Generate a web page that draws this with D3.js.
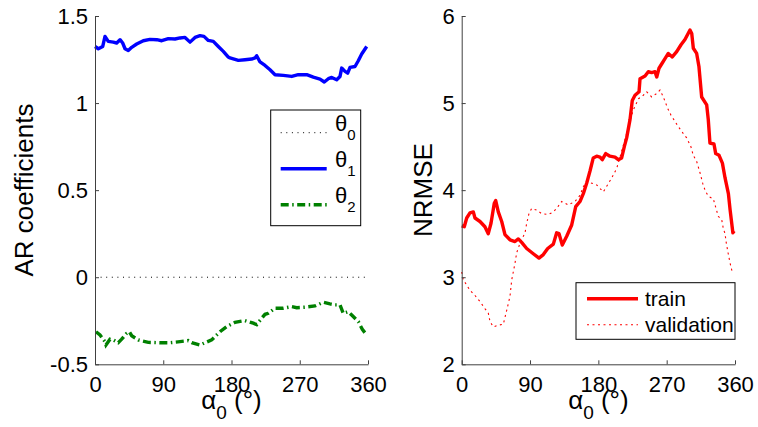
<!DOCTYPE html>
<html>
<head>
<meta charset="utf-8">
<script src="https://cdn.jsdelivr.net/npm/d3@7"></script>
<style>
  html, body { margin: 0; padding: 0; background: #fff; }
  svg { display: block; font-family: "Liberation Sans", Arial, Helvetica, sans-serif; }
</style>
</head>
<body>
<svg id="chart" width="758" height="427"></svg>
<script>
// ---- AR coefficients vs. alpha0 ----
const theta0Deg = [0, 360];
const theta0 = [0, 0];

const theta1Deg = [0, 4.4, 10.2, 13.2, 17.5, 24.1, 28.6, 33, 36.5, 39.6, 43.9, 48.4, 55, 63.7, 72.5,
  81.4, 88, 96.7, 105.5, 112.1, 118.7, 125.3, 131.9, 138.5, 143.7, 149.4, 156, 162.6, 169.2, 175.8,
  178, 189, 197.8, 206.6, 211, 213.2, 217.6, 224.2, 230.8, 237.4, 248.3, 259.4, 268.1, 279.2, 287.9,
  296.7, 302.4, 307.7, 312.2, 318.7, 323.1, 325.3, 329.7, 333.2, 336.3, 342.9, 347.2, 351.7, 358.3];
const theta1 = [1.325, 1.312, 1.325, 1.383, 1.354, 1.35, 1.345, 1.364, 1.345, 1.312, 1.302, 1.32, 1.339, 1.358, 1.366,
  1.364, 1.358, 1.37, 1.368, 1.374, 1.377, 1.35, 1.377, 1.387, 1.383, 1.36, 1.354, 1.325, 1.297, 1.264,
  1.259, 1.245, 1.249, 1.253, 1.259, 1.272, 1.236, 1.216, 1.191, 1.163, 1.159, 1.153, 1.163, 1.163, 1.149,
  1.138, 1.121, 1.14, 1.147, 1.134, 1.153, 1.201, 1.182, 1.172, 1.205, 1.21, 1.243, 1.282, 1.325];

const theta2Deg = [1.3, 6.6, 13.2, 14.5, 19.8, 24.1, 30.7, 35.2, 41.8, 45.2, 48.4, 57.1, 70.3, 85.7, 98.9,
  112.1, 123, 127.5, 138.5, 145.1, 153.9, 164.8, 173.7, 184.6, 197.8, 208.8, 213.2, 219.8, 224.2, 228.5,
  237.4, 248.3, 259.4, 266, 277, 290.1, 301.1, 309.9, 316.5, 323.1, 327.4, 334, 338.5, 347.2, 352.5, 358.3];
const theta2 = [-0.313, -0.332, -0.37, -0.389, -0.356, -0.36, -0.376, -0.356, -0.322, -0.313, -0.336, -0.36, -0.374, -0.376, -0.376,
  -0.37, -0.364, -0.376, -0.389, -0.376, -0.36, -0.313, -0.284, -0.259, -0.249, -0.264, -0.272, -0.236, -0.213, -0.207,
  -0.178, -0.178, -0.169, -0.175, -0.172, -0.165, -0.144, -0.153, -0.159, -0.159, -0.207, -0.198, -0.217, -0.255, -0.299, -0.332];

// ---- NRMSE vs. alpha0 ----
const trainDeg = [0, 3.4, 6.6, 10.9, 15.3, 17.5, 24.1, 30.6, 35, 38.6, 42.9, 44.8, 48.2, 52.7, 57, 63.6, 70.2, 74.6, 79,
  85.6, 94.3, 101.8, 107.5, 113.3, 120.7, 125.1, 128.2, 132.5, 138.3, 144.9, 150.2, 155.8, 160.2, 164.6, 169,
  173.3, 177.8, 182.2, 185.2, 189.7, 195.3, 201.9, 206.3, 210.7, 214.2, 217.3, 221.7, 224.7, 228.3, 233.6, 234.9,
  241.5, 245.8, 250.3, 254.6, 256.9, 259.9, 264.2, 267.8, 272.1, 277.4, 283.2, 288.9, 294.1, 300.7, 303, 305.1,
  309.5, 312.5, 316.1, 322.7, 324.8, 327, 332.3, 334.6, 339, 343.4, 346.9, 351.3, 353.6, 357.2, 358.9];
const train = [3.59, 3.58, 3.68, 3.74, 3.75, 3.68, 3.64, 3.58, 3.50, 3.62, 3.85, 3.88, 3.75, 3.64, 3.49, 3.43, 3.41, 3.44, 3.40,
  3.33, 3.27, 3.22, 3.26, 3.33, 3.38, 3.51, 3.50, 3.37, 3.47, 3.60, 3.81, 3.87, 3.96, 4.08, 4.22,
  4.37, 4.39, 4.38, 4.35, 4.42, 4.39, 4.38, 4.35, 4.37, 4.50, 4.60, 4.81, 5.03, 5.09, 5.13, 5.28,
  5.31, 5.36, 5.35, 5.36, 5.30, 5.40, 5.46, 5.51, 5.57, 5.53, 5.59, 5.67, 5.73, 5.84, 5.80, 5.63,
  5.57, 5.42, 5.07, 4.98, 4.81, 4.54, 4.53, 4.42, 4.40, 4.31, 4.14, 3.96, 3.77, 3.51, 3.53];

const validDeg = [0, 2.1, 6.6, 10.9, 17.5, 24.1, 30.6, 35, 37.3, 41.6, 48.2, 54.8, 59.3, 63.6, 65.9, 70.2, 72.4, 76.8,
  83.4, 85.6, 88.6, 92.2, 98.8, 105.4, 114.1, 120.7, 125.1, 131.7, 140.4, 149.2, 155.8, 160.2, 164.6, 177.8,
  186.5, 197.6, 204.2, 208.5, 217.3, 219.4, 226, 233, 239.2, 243.7, 250.3, 256.9, 261.2, 265.6, 271.3, 275.7,
  280.9, 285.3, 291.9, 296.3, 301.9, 305, 309.5, 313.9, 317.4, 320.5, 324.8, 331.4, 333.7, 338, 342.5, 344.6,
  346.9, 348.2, 351.3, 353.6, 355.8, 358];
const valid = [3.06, 2.97, 2.91, 2.85, 2.79, 2.72, 2.64, 2.59, 2.49, 2.43, 2.45, 2.46, 2.62, 2.78, 2.97, 3.16, 3.28, 3.39,
  3.51, 3.62, 3.73, 3.79, 3.77, 3.73, 3.72, 3.75, 3.79, 3.87, 3.83, 3.87, 3.94, 4.04, 4.10, 4.06,
  3.98, 4.14, 4.25, 4.38, 4.65, 4.73, 4.92, 5.05, 5.09, 5.13, 5.07, 5.11, 5.15, 5.07, 4.94, 4.86,
  4.79, 4.73, 4.65, 4.60, 4.50, 4.40, 4.33, 4.20, 4.08, 4.00, 3.93, 3.90, 3.83, 3.70, 3.66, 3.56,
  3.50, 3.41, 3.26, 3.16, 3.08, 3.04];

// ---- ticks ----
const xTicks = [0, 90, 180, 270, 360];
const xTickLabels = ["0", "90", "180", "270", "360"];
const leftYTicks = [-0.5, 0, 0.5, 1, 1.5];
const leftYTickLabels = ["-0.5", "0", "0.5", "1", "1.5"];
const rightYTicks = [2, 3, 4, 5, 6];
const rightYTickLabels = ["2", "3", "4", "5", "6"];

const svg = d3.select("#chart");
const axisColor = "#404040";
const zip = (xs, ys) => xs.map((x, i) => [x, ys[i]]);

function drawAxes(g, x, y, yTicks, yLabels) {
  const ax = g.append("g")
    .attr("transform", `translate(0,${y.range()[0]})`)
    .call(d3.axisBottom(x).tickValues(xTicks)
      .tickFormat((d, i) => xTickLabels[i])
      .tickSizeInner(-4).tickSizeOuter(0).tickPadding(12));
  const ay = g.append("g")
    .attr("transform", `translate(${x.range()[0]},0)`)
    .call(d3.axisLeft(y).tickValues(yTicks)
      .tickFormat((d, i) => yLabels[i])
      .tickSizeInner(-4).tickSizeOuter(0).tickPadding(7));
  [ax, ay].forEach(a => {
    a.attr("font-family", null).attr("font-size", 22);
    a.selectAll("path, line").attr("stroke", axisColor);
    a.selectAll("text").attr("fill", "#000");
  });
}

function xLabel(g, cx) {
  const t = g.append("text").attr("x", cx).attr("y", 409)
    .attr("text-anchor", "middle").attr("font-size", 26).attr("fill", "#000");
  t.append("tspan").text("α");
  t.append("tspan").attr("font-size", 19).attr("dy", 10).text("0");
  t.append("tspan").attr("dy", -10).text(" (°)");
}

function yLabel(g, text, bx, cy) {
  g.append("text").attr("transform", `translate(${bx},${cy}) rotate(-90)`)
    .attr("text-anchor", "middle").attr("font-size", 26).attr("fill", "#000").text(text);
}

// ---- left panel ----
const xL = d3.scaleLinear().domain([0, 360]).range([95, 368]);
const yL = d3.scaleLinear().domain([-0.5, 1.5]).range([364.3, 16]);
const gL = svg.append("g");
const lineL = d3.line().x(d => xL(d[0])).y(d => yL(d[1]));

gL.append("path").attr("d", lineL(zip(theta0Deg, theta0)))
  .attr("fill", "none").attr("stroke", "#000").attr("stroke-width", 1).attr("stroke-dasharray", "1,4.6");
gL.append("path").attr("d", lineL(zip(theta1Deg, theta1)))
  .attr("fill", "none").attr("stroke", "#0000ff").attr("stroke-width", 3.4).attr("stroke-linejoin", "round");
gL.append("path").attr("d", lineL(zip(theta2Deg, theta2)))
  .attr("fill", "none").attr("stroke", "#008000").attr("stroke-width", 3.4)
  .attr("stroke-dasharray", "8,3.5,1.5,3.5");

drawAxes(gL, xL, yL, leftYTicks, leftYTickLabels);
xLabel(gL, 231.5);
yLabel(gL, "AR coefficients", 33, 190);

// left legend
const legL = gL.append("g");
legL.append("rect").attr("x", 270.7).attr("y", 110).attr("width", 90).attr("height", 115.7)
  .attr("fill", "#fff").attr("stroke", "#000").attr("stroke-width", 1);
const legLItems = [
  { sub: "0", stroke: "#000", width: 1, dash: "1,4.6" },
  { sub: "1", stroke: "#0000ff", width: 3.4, dash: null },
  { sub: "2", stroke: "#008000", width: 3.4, dash: "8,3.5,1.5,3.5" }
];
legLItems.forEach((it, i) => {
  const ly = 132.7 + i * 36;
  legL.append("line").attr("x1", 280.7).attr("x2", 326.7).attr("y1", ly).attr("y2", ly)
    .attr("stroke", it.stroke).attr("stroke-width", it.width).attr("stroke-dasharray", it.dash);
  const t = legL.append("text").attr("x", 335).attr("y", ly - 1.5).attr("font-size", 22).attr("fill", "#000");
  t.append("tspan").text("θ");
  t.append("tspan").attr("font-size", 15).attr("dy", 9).text(it.sub);
});

// ---- right panel ----
const xR = d3.scaleLinear().domain([0, 360]).range([461.7, 735]);
const yR = d3.scaleLinear().domain([2, 6]).range([364.3, 16]);
const gR = svg.append("g");
const lineR = d3.line().x(d => xR(d[0])).y(d => yR(d[1]));

gR.append("path").attr("d", lineR(zip(validDeg, valid)))
  .attr("fill", "none").attr("stroke", "#ff0000").attr("stroke-width", 1.1).attr("stroke-dasharray", "2,3.5");
gR.append("path").attr("d", lineR(zip(trainDeg, train)))
  .attr("fill", "none").attr("stroke", "#ff0000").attr("stroke-width", 3.4).attr("stroke-linejoin", "round");

drawAxes(gR, xR, yR, rightYTicks, rightYTickLabels);
xLabel(gR, 598.4);
yLabel(gR, "NRMSE", 431.5, 190);

// right legend
const legR = gR.append("g");
legR.append("rect").attr("x", 576).attr("y", 282.7).attr("width", 159).attr("height", 56.6)
  .attr("fill", "#fff").attr("stroke", "#000").attr("stroke-width", 1);
const legRItems = [
  { label: "train", width: 3.4, dash: null },
  { label: "validation", width: 1.1, dash: "2,3.5" }
];
legRItems.forEach((it, i) => {
  const ly = 298.7 + i * 26;
  legR.append("line").attr("x1", 587).attr("x2", 638).attr("y1", ly).attr("y2", ly)
    .attr("stroke", "#ff0000").attr("stroke-width", it.width).attr("stroke-dasharray", it.dash);
  legR.append("text").attr("x", 645).attr("y", ly + 7.3).attr("font-size", 21).attr("fill", "#000").text(it.label);
});
</script>
</body>
</html>
